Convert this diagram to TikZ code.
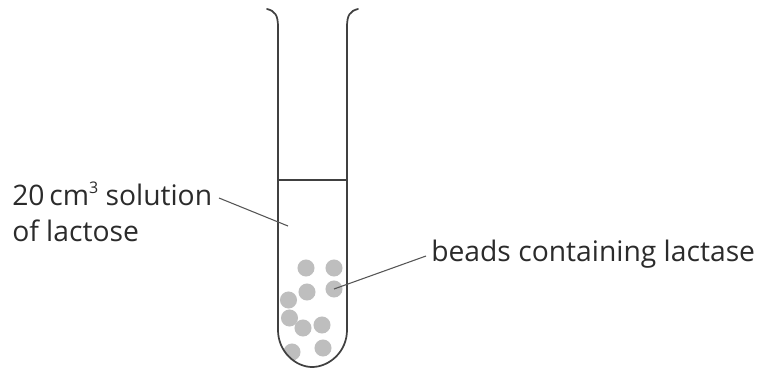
\documentclass[tikz,border=0pt]{standalone}
\usepackage{fontspec}
\setmainfont{Open Sans}
\definecolor{ink}{HTML}{2B2B2B}
\definecolor{bead}{HTML}{BEBEBE}
\tikzset{
 px/.style={x=0.75pt,y=-0.75pt},
 tube/.style={draw=ink!90,line width=1.3pt,line cap=round},
 lead/.style={draw=ink!80,line width=0.8pt},
 beadn/.style={circle,fill=bead,minimum size=12.8pt,inner sep=0pt},
 lab/.style={text=ink,font=\fontsize{21.2pt}{27pt}\selectfont,inner sep=0pt,align=left}
}
\begin{document}
\begin{tikzpicture}[px]
\useasboundingbox (0,0) rectangle (761,369);
\begin{scope}
\clip (278,30) -- (278,330) .. controls (278,352) and (296,367) .. (312,367) .. controls (329,367) and (347,352) .. (347,330) -- (347,30) -- cycle;
\node[beadn] (b1) at (306,268) {};
\node[beadn] (b2) at (334,268) {};
\node[beadn] (b3) at (307,292) {};
\node[beadn] (b4) at (334,289) {};
\node[beadn] (b5) at (288.5,300) {};
\node[beadn] (b6) at (289.5,318) {};
\node[beadn] (b7) at (303,328) {};
\node[beadn] (b8) at (322,325) {};
\node[beadn] (b9) at (292,352) {};
\node[beadn] (b10) at (323,348) {};
\end{scope}
\draw[tube] (267,9) .. controls (275,11) and (278,15) .. (278,27) -- (278,330) .. controls (278,352) and (296,367) .. (312,367) .. controls (329,367) and (347,352) .. (347,330) -- (347,27) .. controls (347,15) and (350,11) .. (358,9);
\draw[tube] (278,180) -- (347,180);
\node[lab,anchor=base west] (t1) at (12,205) {20\,cm\raisebox{0.42em}{\fontsize{12pt}{12pt}\selectfont 3} solution};
\node[lab,anchor=base west] (t2) at (12,241) {of lactose};
\node[lab,anchor=base west] (t3) at (431,261) {beads containing lactase};
\coordinate (c1) at (219,198);
\coordinate (c2) at (288,226);
\coordinate (c3) at (426,256);
\draw[lead] (c1) -- (c2);
\draw[lead] (c3) -- (b4.center);
\end{tikzpicture}
\end{document}
